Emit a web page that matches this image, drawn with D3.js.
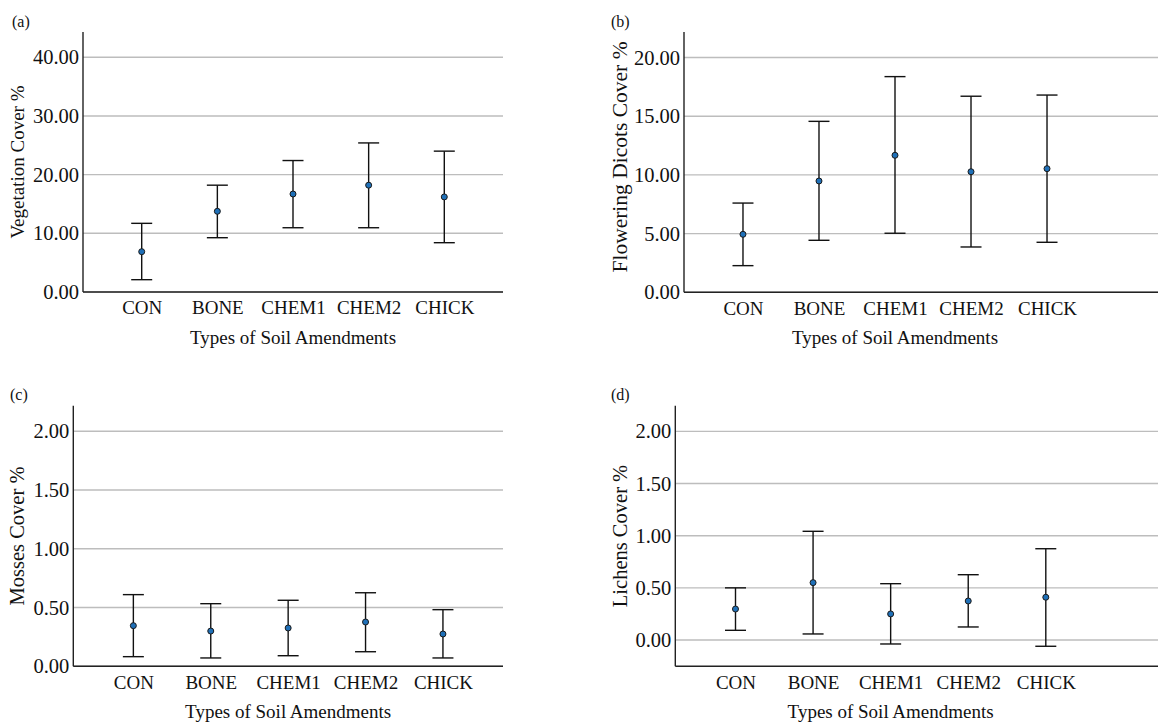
<!DOCTYPE html>
<html>
<head>
<meta charset="utf-8">
<script src="https://cdn.jsdelivr.net/npm/d3@7"></script>
<style>
  body { margin: 0; background: #fff; }
  svg { display: block; }
  text { font-family: "Liberation Serif", "Times New Roman", serif; fill: #111; }
</style>
</head>
<body>
<div id="chart"></div>
<script>
// Data
const categories = ["CON", "BONE", "CHEM1", "CHEM2", "CHICK"];

const vegMean  = [6.87, 13.75, 16.7, 18.2, 16.2];
const vegLow   = [2.1, 9.25, 10.95, 10.95, 8.4];
const vegHigh  = [11.7, 18.2, 22.4, 25.4, 24.0];
const vegTicks = [0, 10, 20, 30, 40];

const dicMean  = [4.94, 9.48, 11.67, 10.27, 10.53];
const dicLow   = [2.27, 4.43, 5.03, 3.86, 4.26];
const dicHigh  = [7.6, 14.56, 18.37, 16.7, 16.8];
const dicTicks = [0, 5, 10, 15, 20];

const mosMean  = [0.346, 0.30, 0.326, 0.377, 0.275];
const mosLow   = [0.082, 0.071, 0.09, 0.124, 0.071];
const mosHigh  = [0.61, 0.533, 0.562, 0.626, 0.482];
const mosTicks = [0, 0.5, 1, 1.5, 2];

const licMean  = [0.297, 0.55, 0.25, 0.374, 0.41];
const licLow   = [0.093, 0.058, -0.038, 0.125, -0.06];
const licHigh  = [0.50, 1.042, 0.54, 0.626, 0.875];
const licTicks = [0, 0.5, 1, 1.5, 2];

const width = 1158, height = 726;
const serif = '"Liberation Serif", "Times New Roman", serif';

const svg = d3.select("#chart").append("svg")
    .attr("width", width)
    .attr("height", height);

function errorPlot(opt) {
    const x = d3.scalePoint()
        .domain(categories)
        .range([opt.left, opt.right])
        .padding(0.776);

    const y = d3.scaleLinear()
        .domain(opt.domain)
        .range([opt.bottom, opt.top]);

    const g = svg.append("g");

    // Panel label
    g.append("text")
        .attr("x", opt.labelX)
        .attr("y", opt.labelY)
        .style("font-family", serif)
        .style("font-size", "16px")
        .text(opt.label);

    // Gridlines
    g.selectAll(".grid")
        .data(opt.ticks)
        .join("line")
        .attr("x1", opt.left)
        .attr("x2", opt.lineEnd)
        .attr("y1", d => y(d))
        .attr("y2", d => y(d))
        .attr("stroke", "#bdbdbd")
        .attr("stroke-width", 1.4);

    // Y axis
    const yAxis = g.append("g")
        .attr("transform", `translate(${opt.left},0)`)
        .call(d3.axisLeft(y).tickValues(opt.ticks).tickFormat(d3.format(".2f")).tickSize(0).tickPadding(4));
    yAxis.select(".domain").remove();
    yAxis.selectAll("text")
        .style("font-size", "20.5px")
        .style("font-family", serif)
        .attr("fill", "#111");

    // X axis
    const xAxis = g.append("g")
        .attr("transform", `translate(0,${opt.bottom})`)
        .call(d3.axisBottom(x).tickSize(0).tickPadding(8));
    xAxis.select(".domain").remove();
    xAxis.selectAll("text")
        .attr("dy", "0.71em")
        .attr("y", 9)
        .style("font-size", "19px")
        .style("font-family", serif)
        .attr("fill", "#111");

    // Axis lines
    g.append("line")
        .attr("x1", opt.left).attr("x2", opt.left)
        .attr("y1", opt.top).attr("y2", opt.bottom)
        .attr("stroke", "#222").attr("stroke-width", 1.4);
    g.append("line")
        .attr("x1", opt.left).attr("x2", opt.lineEnd)
        .attr("y1", opt.bottom).attr("y2", opt.bottom)
        .attr("stroke", "#222").attr("stroke-width", 1.4);

    // Axis titles
    g.append("text")
        .attr("text-anchor", "middle")
        .attr("transform", `translate(${opt.titleX},${opt.titleY}) rotate(-90)`)
        .style("font-family", serif)
        .style("font-size", opt.titleSize + "px")
        .text(opt.yTitle);

    g.append("text")
        .attr("text-anchor", "middle")
        .attr("x", (opt.left + opt.right) / 2)
        .attr("y", opt.bottom + 52)
        .style("font-family", serif)
        .style("font-size", "19px")
        .text("Types of Soil Amendments");

    const rows = categories.map((c, i) => ({ c, m: opt.mean[i], lo: opt.low[i], hi: opt.high[i] }));
    const cap = 10.5;

    // Error bars
    const bars = g.selectAll(".bar").data(rows).join("g");
    bars.append("line")
        .attr("x1", d => x(d.c)).attr("x2", d => x(d.c))
        .attr("y1", d => y(d.lo)).attr("y2", d => y(d.hi))
        .attr("stroke", "#111").attr("stroke-width", 1.4);
    bars.append("line")
        .attr("x1", d => x(d.c) - cap).attr("x2", d => x(d.c) + cap)
        .attr("y1", d => y(d.hi)).attr("y2", d => y(d.hi))
        .attr("stroke", "#111").attr("stroke-width", 1.4);
    bars.append("line")
        .attr("x1", d => x(d.c) - cap).attr("x2", d => x(d.c) + cap)
        .attr("y1", d => y(d.lo)).attr("y2", d => y(d.lo))
        .attr("stroke", "#111").attr("stroke-width", 1.4);

    // Mean points
    bars.append("circle")
        .attr("cx", d => x(d.c))
        .attr("cy", d => y(d.m))
        .attr("r", 3)
        .attr("fill", "#1f70b8")
        .attr("stroke", "#1a1a1a")
        .attr("stroke-width", 1);
}

errorPlot({
    label: "(a)", labelX: 12, labelY: 27,
    left: 83, right: 503, lineEnd: 503, top: 32, bottom: 292,
    domain: [0, 44.3], ticks: vegTicks, titleX: 24, titleY: 162, titleSize: 19,
    yTitle: "Vegetation Cover %", mean: vegMean, low: vegLow, high: vegHigh
});

errorPlot({
    label: "(b)", labelX: 611, labelY: 27,
    left: 684, right: 1106, lineEnd: 1158, top: 32, bottom: 292.3,
    domain: [0, 22.17], ticks: dicTicks, titleX: 627, titleY: 157, titleSize: 21.5,
    yTitle: "Flowering Dicots Cover %", mean: dicMean, low: dicLow, high: dicHigh
});

errorPlot({
    label: "(c)", labelX: 10, labelY: 400,
    left: 73.3, right: 503, lineEnd: 503, top: 405.7, bottom: 666.3,
    domain: [0, 2.218], ticks: mosTicks, titleX: 24, titleY: 536, titleSize: 20.5,
    yTitle: "Mosses Cover %", mean: mosMean, low: mosLow, high: mosHigh
});

errorPlot({
    label: "(d)", labelX: 611, labelY: 400,
    left: 675.3, right: 1106, lineEnd: 1158, top: 405.7, bottom: 666.3,
    domain: [-0.252, 2.246], ticks: licTicks, titleX: 627, titleY: 536, titleSize: 20.5,
    yTitle: "Lichens Cover %", mean: licMean, low: licLow, high: licHigh
});
</script>
</body>
</html>
